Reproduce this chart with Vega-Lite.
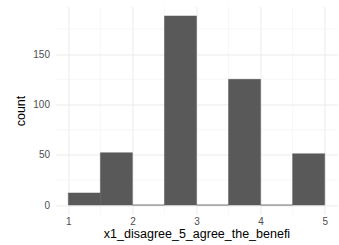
{
  "$schema": "https://vega.github.io/schema/vega-lite/v6.json",
  "autosize": "none",
  "width": 282,
  "height": 208,
  "padding": {"left": 55.5, "top": 6.5, "right": 1.5, "bottom": 30.5},
  "background": "white",
  "config": {
    "view": {"stroke": null},
    "font": "Liberation Sans",
    "axis": {
      "grid": true, "gridColor": "#EBEBEB", "gridWidth": 1,
      "domain": false, "ticks": false,
      "labelColor": "#4D4D4D", "labelFontSize": 10,
      "titleColor": "black", "titleFontSize": 12.5, "titleFontWeight": "normal"
    }
  },
  "datasets": {
    "bins": [
      {"bin_start": 1.0, "bin_end": 1.5, "count": 12},
      {"bin_start": 1.5, "bin_end": 2.0, "count": 52},
      {"bin_start": 2.0, "bin_end": 2.5, "count": 0},
      {"bin_start": 2.5, "bin_end": 3.0, "count": 188},
      {"bin_start": 3.0, "bin_end": 3.5, "count": 0},
      {"bin_start": 3.5, "bin_end": 4.0, "count": 125},
      {"bin_start": 4.0, "bin_end": 4.5, "count": 0},
      {"bin_start": 4.5, "bin_end": 5.0, "count": 51}
    ],
    "minor_x": [{"v": 1.5}, {"v": 2.5}, {"v": 3.5}, {"v": 4.5}],
    "minor_y": [{"v": 25}, {"v": 75}, {"v": 125}, {"v": 175}]
  },
  "layer": [
    {
      "data": {"name": "minor_x"},
      "mark": {"type": "rule", "color": "#F2F2F2", "strokeWidth": 0.6},
      "encoding": {
        "x": {"field": "v", "type": "quantitative", "scale": {"domain": [0.8, 5.2], "nice": false, "zero": false}}
      }
    },
    {
      "data": {"name": "minor_y"},
      "mark": {"type": "rule", "color": "#F2F2F2", "strokeWidth": 0.6},
      "encoding": {
        "y": {"field": "v", "type": "quantitative", "scale": {"domain": [-9.4, 197.4], "nice": false, "zero": false}}
      }
    },
    {
      "data": {"name": "bins"},
      "mark": {"type": "rect", "color": "#595959", "stroke": "#595959", "strokeWidth": 0.5},
      "encoding": {
        "x": {"field": "bin_start", "type": "quantitative",
              "scale": {"domain": [0.8, 5.2], "nice": false, "zero": false},
              "axis": {"values": [1, 2, 3, 4, 5], "format": "d", "title": "x1_disagree_5_agree_the_benefi", "labelPadding": 2, "titlePadding": 1}},
        "x2": {"field": "bin_end"},
        "y": {"field": "count", "type": "quantitative",
              "scale": {"domain": [-9.4, 197.4], "nice": false, "zero": false},
              "axis": {"values": [0, 50, 100, 150], "format": "d", "title": "count", "labelPadding": 6, "titlePadding": 5}},
        "y2": {"datum": 0}
      }
    }
  ]
}
